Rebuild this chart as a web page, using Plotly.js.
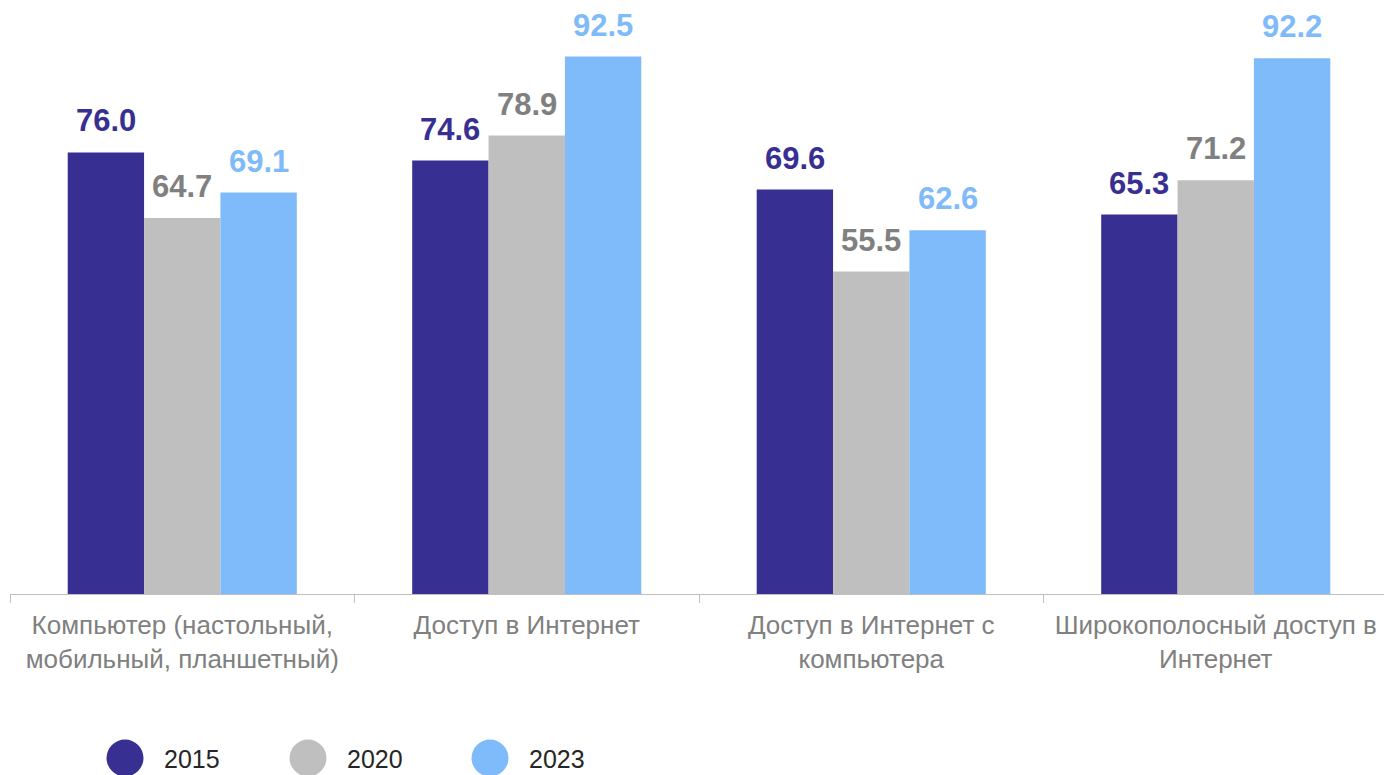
<!DOCTYPE html>
<html>
<head>
<meta charset="utf-8">
<script src="https://cdn.plot.ly/plotly-3.0.1.min.js"></script>
<style>
html,body{margin:0;padding:0;overflow:hidden;background:#fff;}
#chart{width:1390px;height:775px;}
</style>
</head>
<body>
<div id="chart"></div>
<script>
const categories = [
  "Компьютер (настольный,<br>мобильный, планшетный)",
  "Доступ в Интернет",
  "Доступ в Интернет с<br>компьютера",
  "Широкополосный доступ в<br>Интернет"
];
const seriesNames = ["2015", "2020", "2023"];
const values2015 = [76.0, 74.6, 69.6, 65.3];
const values2020 = [64.7, 78.9, 55.5, 71.2];
const values2023 = [69.1, 92.5, 62.6, 92.2];

const barColors = ["#372f91", "#bfbfbf", "#7fbbfa"];
const labelColors = ["#372f91", "#808080", "#7fbbfa"];
const allValues = [values2015, values2020, values2023];

const W = 1390, H = 775;
const M = {l: 10, r: 2, t: 13, b: 181};
const plotW = W - M.l - M.r, plotH = H - M.t - M.b;
const font = "Arial, 'Liberation Sans', sans-serif";
const BARGAP = 0.335;
const barPx = (plotW / categories.length) * (1 - BARGAP) / allValues.length;

const traces = allValues.map((vals, i) => ({
  type: "bar",
  name: seriesNames[i],
  x: categories,
  y: vals,
  marker: {color: barColors[i], line: {width: 0}},
  showlegend: false,
  hoverinfo: "skip"
}));

// value labels above bars, positioned via the axes
const annotations = [];
allValues.forEach((vals, i) => {
  vals.forEach((v, j) => {
    annotations.push({
      x: categories[j], y: v, xref: "x", yref: "y",
      xshift: (i - (allValues.length - 1) / 2) * barPx,
      yshift: 12,
      text: "<b>" + v.toFixed(1) + "</b>",
      showarrow: false, xanchor: "center", yanchor: "bottom",
      font: {family: font, size: 31, color: labelColors[i]}
    });
  });
});

// legend drawn as circles + labels under the chart
const px2x = px => (px - M.l) / plotW;
const py2y = py => (H - M.b - py) / plotH;
const legendX = [125, 308, 490];
const legendY = 758;
const shapes = seriesNames.map((n, i) => ({
  type: "circle", xref: "paper", yref: "paper",
  xsizemode: "pixel", ysizemode: "pixel",
  xanchor: px2x(legendX[i]), yanchor: py2y(legendY),
  x0: -18.5, x1: 18.5, y0: -18.5, y1: 18.5,
  fillcolor: barColors[i], line: {width: 0}
}));
seriesNames.forEach((n, i) => annotations.push({
  text: n, xref: "paper", yref: "paper",
  x: px2x(legendX[i] + 37), y: py2y(legendY + 1),
  xanchor: "left", yanchor: "middle", showarrow: false,
  font: {family: font, size: 25, color: "#262626"}
}));

const layout = {
  width: W, height: H,
  margin: M,
  paper_bgcolor: "#fff", plot_bgcolor: "#fff",
  barmode: "group",
  bargap: BARGAP,
  bargroupgap: 0,
  showlegend: false,
  xaxis: {
    type: "category",
    showline: true, linecolor: "#bfbfbf", linewidth: 1,
    ticks: "outside", tickson: "boundaries", ticklen: 8, tickcolor: "#bfbfbf", tickwidth: 1,
    ticklabelstandoff: 8,
    tickfont: {family: font, size: 26, color: "#808080"},
    showgrid: false, zeroline: false
  },
  yaxis: {
    range: [0, 100], visible: false, showgrid: false, zeroline: false
  },
  shapes: shapes,
  annotations: annotations
};

Plotly.newPlot("chart", traces, layout, {displayModeBar: false, staticPlot: true});
</script>
</body>
</html>
